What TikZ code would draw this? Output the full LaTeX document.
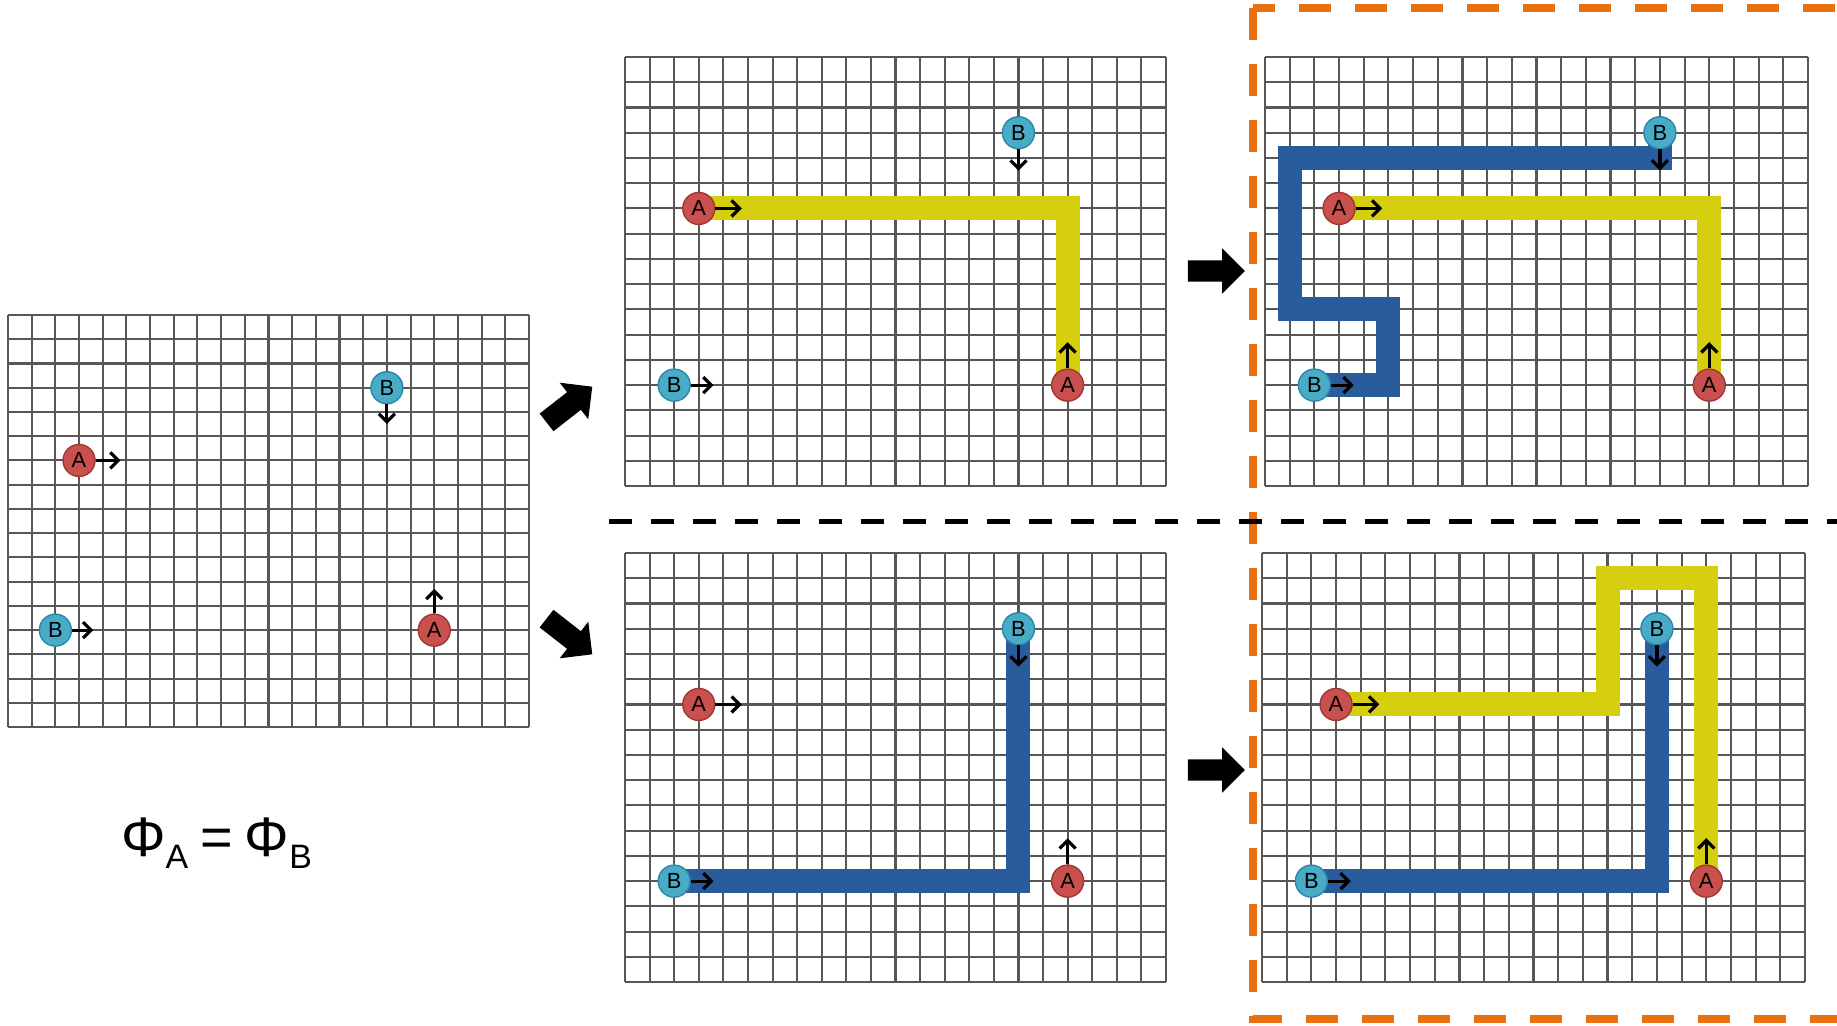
\documentclass[tikz,border=0pt]{standalone}
\usepackage{fontspec}
\setmainfont{Liberation Sans}
\usetikzlibrary{arrows.meta, shapes.arrows, backgrounds}
\definecolor{clrA}{HTML}{C9504D}
\definecolor{clrAline}{HTML}{9C3835}
\definecolor{clrB}{HTML}{48ACC8}
\definecolor{clrBline}{HTML}{2D87A4}
\definecolor{clrYellow}{HTML}{D5CF0F}
\definecolor{clrBlue}{HTML}{285C9D}
\definecolor{clrOrange}{HTML}{E8700F}
\tikzset{
  agentA/.style = {circle, minimum size=32bp, inner sep=0pt, line width=1.4bp,
                   draw=clrAline, fill=clrA, font=\fontsize{22}{22}\selectfont},
  agentB/.style = {circle, minimum size=32bp, inner sep=0pt, line width=1.4bp,
                   draw=clrBline, fill=clrB, font=\fontsize{22}{22}\selectfont},
  move/.style = {-{Straight Barb[length=8bp, width=16bp]}, line width=3.2bp},
  gridline/.style = {line width=2.1bp, color=black!66},
  route/.style = {line width=24bp, line join=miter, line cap=butt},
  routeA/.style = {route, color=clrYellow},
  routeB/.style = {route, color=clrBlue},
  bigarrow/.style = {single arrow, fill=black, inner xsep=0pt, inner ysep=10.5bp,
                     minimum height=57bp, minimum width=45bp, single arrow head extend=12bp},
  split/.style = {line width=5bp, dash pattern=on 23bp off 19bp},
  pick/.style = {line width=8bp, color=clrOrange, dash pattern=on 32bp off 24bp},
  formula/.style = {inner sep=0pt, font=\fontsize{56}{60}\selectfont},
}

% 22 x 17 cells
\newcommand{\gridlines}{%
  \foreach \i in {0,...,22} \draw[gridline] (\i,0) -- (\i,17);
  \foreach \j in {0,...,17} \draw[gridline] (0,\j) -- (22,\j);
}

% the four agents and their headings
\newcommand{\agentset}[1]{%
  \node[agentA] (#1A1) at (3,6)   {A};
  \node[agentB] (#1B1) at (16,3)  {B};
  \node[agentA] (#1A2) at (18,13) {A};
  \node[agentB] (#1B2) at (2,13)  {B};
  \coordinate (#1A1t) at (4.75,6);
  \coordinate (#1B1t) at (16,4.5);
  \coordinate (#1A2t) at (18,11.3);
  \coordinate (#1B2t) at (3.6,13);
  \draw[move] (#1A1) -- (#1A1t);
  \draw[move] (#1B1) -- (#1B1t);
  \draw[move] (#1A2) -- (#1A2t);
  \draw[move] (#1B2) -- (#1B2t);
}

\begin{document}
\begin{tikzpicture}[x=1bp, y=-1bp]
  \useasboundingbox (0,0) rectangle (1837,1025);

  % Start: no routes yet
  \begin{scope}[shift={(8,315)}, x=23.68bp, y=-24.24bp]
    \agentset{s}
    \begin{scope}[on background layer]
      \gridlines
    \end{scope}
  \end{scope}
  \node[formula, anchor=base west] (phi) at (121,856)
    {Φ\raisebox{-12bp}{\fontsize{34}{34}\selectfont A}\hspace{12bp}=\hspace{12bp}Φ\raisebox{-12bp}{\fontsize{34}{34}\selectfont B}};

  % Top row: A plans first
  \begin{scope}[shift={(625,57)}, x=24.59bp, y=-25.24bp]
    \agentset{tm}
    \begin{scope}[on background layer]
      \gridlines
      \draw[routeA] (tmA1.center) -| (tmA2.center);
    \end{scope}
  \end{scope}
  \begin{scope}[shift={(1265,57)}, x=24.68bp, y=-25.24bp]
    \agentset{tr}
    \begin{scope}[on background layer]
      \gridlines
      \draw[routeA] (trA1.center) -| (trA2.center);
      \draw[routeB] (trB1.center) -- (16,4) -- (1,4) -- (1,10) -- (5,10) -- (5,13) -- (trB2.center);
    \end{scope}
  \end{scope}

  % Bottom row: B plans first
  \begin{scope}[shift={(625,553)}, x=24.59bp, y=-25.24bp]
    \agentset{bm}
    \begin{scope}[on background layer]
      \gridlines
      \draw[routeB] (bmB1.center) |- (bmB2.center);
    \end{scope}
  \end{scope}
  \begin{scope}[shift={(1262,553)}, x=24.68bp, y=-25.24bp]
    \agentset{br}
    \begin{scope}[on background layer]
      \gridlines
      \draw[routeB] (brB1.center) |- (brB2.center);
      \draw[routeA] (brA1.center) -- (14,6) -- (14,1) -- (18,1) -- (brA2.center);
    \end{scope}
  \end{scope}

  % Block arrows
  \node[bigarrow, minimum height=58bp, minimum width=46bp, inner ysep=11bp,
        single arrow head extend=12bp, rotate=38] (toTop) at (565,408) {};
  \node[bigarrow, minimum height=58bp, minimum width=46bp, inner ysep=11bp,
        single arrow head extend=12bp, rotate=-38] (toBottom) at (565,633) {};
  \node[bigarrow] (toTopPick) at (1211,271) {};
  \node[bigarrow] (toBottomPick) at (1211,770) {};

  % Separator and chosen plans
  \coordinate (splitL) at (609,521);
  \coordinate (splitR) at (1837,521);
  \coordinate (pickNW) at (1253,8);
  \coordinate (pickSE) at (1849,1019);
  \draw[pick] (pickNW) rectangle (pickSE);
  \draw[split] (splitL) -- (splitR);

\end{tikzpicture}
\end{document}
